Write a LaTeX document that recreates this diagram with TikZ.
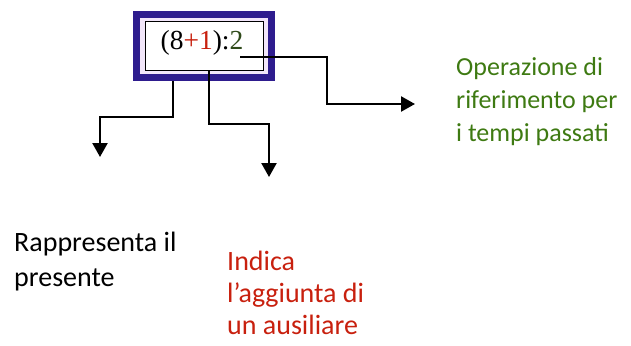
\documentclass[tikz,border=0pt]{standalone}
\usepackage{fontspec}
\setmainfont{Carlito}
\newfontfamily\serifexpr{Liberation Serif}
\usetikzlibrary{arrows.meta}
\definecolor{navyb}{HTML}{2E1C8E}
\definecolor{lavb}{HTML}{F2E6FA}
\definecolor{txtgreen}{HTML}{3E7A12}
\definecolor{txtred}{HTML}{C8200E}
\definecolor{exgreen}{HTML}{2F4A1A}
\begin{document}
\begin{tikzpicture}[x=1pt,y=-1pt,
  outerbox/.style={draw=navyb,line width=7pt,fill=lavb,minimum width=135pt,minimum height=63pt,inner sep=0pt},
  innerbox/.style={draw=black,line width=1pt,fill=white,minimum width=118pt,minimum height=48pt,inner sep=0pt},
  conn/.style={draw=black,line width=2.4pt,-{Triangle[length=14pt,width=15pt]}},
  lbl/.style={anchor=north west,inner sep=0pt,align=left}]
\useasboundingbox (0,0) rectangle (631,345);
\node[outerbox] (box) at (204,46) {};
\node[innerbox] (inner) at (204,46) {};
\node[inner sep=0pt] (expr) at (202,43) {\serifexpr\fontsize{27.5}{30}\selectfont (8\textcolor{txtred}{+1}):\textcolor{exgreen}{2}};
\coordinate (s1) at (173,81);
\coordinate (s2) at (209,70);
\coordinate (s3) at (240,57);
\coordinate (t1) at (100,157);
\coordinate (t2) at (269,177);
\coordinate (t3) at (415,104);
\draw[conn] (s1) -- (173,117) -- (100,117) -- (t1);
\draw[conn] (s2) -- (209,124) -- (269,124) -- (t2);
\draw[conn] (s3) -- (327,57) -- (327,104) -- (t3);
\node[lbl,text=txtgreen,font=\fontsize{26}{33}\selectfont] (green) at (456,57) {Operazione di\\riferimento per\\i tempi passati};
\node[lbl,text=black,font=\fontsize{28}{35}\selectfont] (black) at (14,232) {Rappresenta il\\presente};
\node[lbl,text=txtred,font=\fontsize{28}{32}\selectfont] (red) at (227,251) {Indica\\l’aggiunta di\\un ausiliare};
\end{tikzpicture}
\end{document}
